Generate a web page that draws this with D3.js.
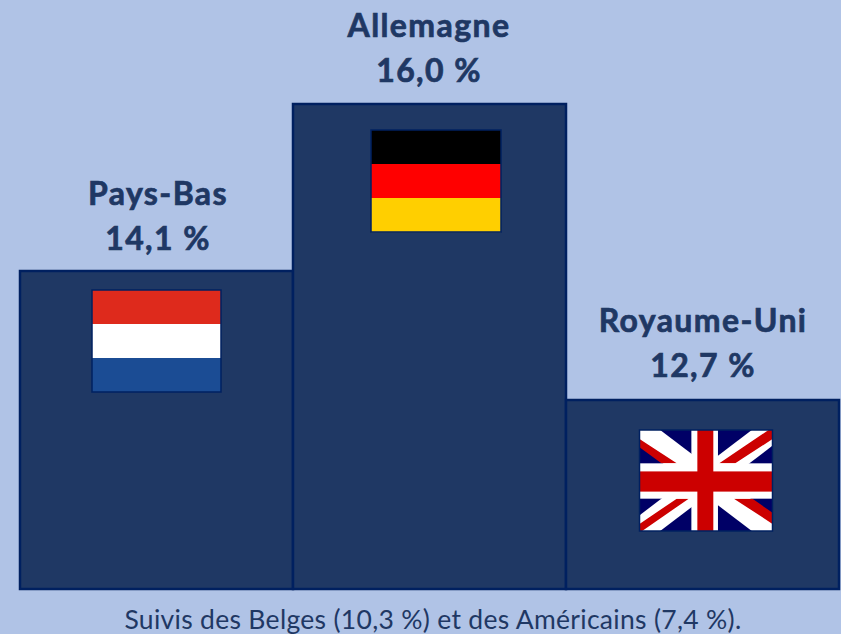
<!DOCTYPE html>
<html><head><meta charset="utf-8">
<script src="https://d3js.org/d3.v7.min.js"></script>
<style>html,body{margin:0;padding:0;background:#B0C3E6}svg{display:block}</style>
</head><body><div id="c"></div>
<script>
const countries = ["Pays-Bas","Allemagne","Royaume-Uni"];
const shares = [14.1,16.0,12.7];
const shareLabels = ["14,1 %","16,0 %","12,7 %"];
const flagKinds = ["nl","de","uk"];
const nlStripes = ["#DE2A1C","#FFFFFF","#1B4C94"];
const deStripes = ["#000000","#FF0000","#FFCF00"];
const footnote = "Suivis des Belges (10,3 %) et des Américains (7,4 %).";

const W=841,H=634;
const svg=d3.select("#c").append("svg").attr("width",W).attr("height",H);
svg.append("rect").attr("width",W).attr("height",H).attr("fill","#B0C3E6");
const x=d3.scaleBand().domain(countries).range([20,839]).padding(0);
// The picture's vertical axis is truncated and not strictly linear: fitted to the drawn bar tops.
const y=d3.scaleLinear().domain([10.6,12.7,14.1,16]).range([589,400,271,104]);
const ink="#1F3864", edge="#002060";

svg.selectAll("rect.bar").data(countries).join("rect").attr("class","bar")
 .attr("x",d=>x(d)).attr("width",x.bandwidth())
 .attr("y",(d,i)=>y(shares[i])).attr("height",(d,i)=>y.range()[0]-y(shares[i]))
 .attr("fill",ink).attr("stroke",edge).attr("stroke-width",2.5);

const lab=svg.selectAll("g.lab").data(countries).join("g").attr("class","lab")
 .attr("text-anchor","middle").attr("fill",ink).attr("stroke",ink).attr("stroke-width",0.7)
 .attr("font-family","Lato, sans-serif").attr("font-weight",700)
 .attr("font-size",32).attr("letter-spacing",1.4);
const labX=[1.5,-0.5,0.5];
lab.append("text").attr("x",(d,i)=>x(d)+x.bandwidth()/2+labX[i]).attr("y",(d,i)=>y(shares[i])-[66,67,68][i]).text(d=>d);
lab.append("text").attr("x",(d,i)=>x(d)+x.bandwidth()/2+labX[i]).attr("y",(d,i)=>y(shares[i])-[21,22,23][i]).text((d,i)=>shareLabels[i]);

const flagTop=[19,26,30], flagW=[129,130,133], flagH=[102,102,101], flagDx=[0,6.5,3.5];
const defs=svg.append("defs");
countries.forEach((c,i)=>{
  const fw=flagW[i], fh=flagH[i], fx=x(c)+x.bandwidth()/2-fw/2+flagDx[i], fy=y(shares[i])+flagTop[i];
  const g=svg.append("g").attr("transform",`translate(${fx},${fy})`);
  const kind=flagKinds[i];
  if(kind!=="uk"){
    const st=kind==="nl"?nlStripes:deStripes;
    const sy=d3.scaleBand().domain(d3.range(3)).range([0,fh]);
    g.selectAll("rect").data(st).join("rect").attr("x",0).attr("width",fw)
     .attr("y",(d,j)=>sy(j)).attr("height",sy.bandwidth()+0.2).attr("fill",d=>d);
  } else {
    defs.append("clipPath").attr("id","ukclip").append("rect").attr("width",fw).attr("height",fh);
    const u=g.append("g").attr("clip-path","url(#ukclip)");
    u.append("rect").attr("width",fw).attr("height",fh).attr("fill","#000066");
    const s=d3.scaleLinear().domain([0,1]).range([0,fw]), t=d3.scaleLinear().domain([0,1]).range([0,fh]);
    const line=(a,b,c2,d2,col,w)=>u.append("line").attr("x1",s(a)).attr("y1",t(b)).attr("x2",s(c2)).attr("y2",t(d2)).attr("stroke",col).attr("stroke-width",w);
    line(0,0,1,1,"#fff",25); line(0,1,1,0,"#fff",25);
    const poly=pts=>"M"+pts.map(p=>`${s(p[0])},${t(p[1])}`).join("L")+"Z";
    u.append("path").attr("fill","#CC0000").attr("d",
      poly([[0,.09],[.28,.33],[.165,.33],[0,.17]])+
      poly([[.6,.33],[.97,0],[1,0],[1,.09],[.72,.33]])+
      poly([[.71,.68],[.85,.68],[1,.82],[1,.93]])+
      poly([[.28,.68],[.37,.68],[.02,1],[0,1],[0,.93]]));
    u.append("rect").attr("x",s(0.39)).attr("width",s(0.2)).attr("height",fh).attr("fill","#fff");
    u.append("rect").attr("y",t(0.33)).attr("width",fw).attr("height",t(0.35)).attr("fill","#fff");
    u.append("rect").attr("x",s(0.435)).attr("width",s(0.12)).attr("height",fh).attr("fill","#CC0000");
    u.append("rect").attr("y",t(0.41)).attr("width",fw).attr("height",t(0.2)).attr("fill","#CC0000");
  }
  g.append("rect").attr("width",fw).attr("height",fh).attr("fill","none").attr("stroke",edge).attr("stroke-width",1.5);
});

svg.append("text").attr("x",433).attr("y",628.5).attr("text-anchor","middle").attr("font-family","Lato, sans-serif")
 .attr("font-size",26.5).attr("letter-spacing",0.3).attr("fill",ink).text(footnote);
</script></body></html>
